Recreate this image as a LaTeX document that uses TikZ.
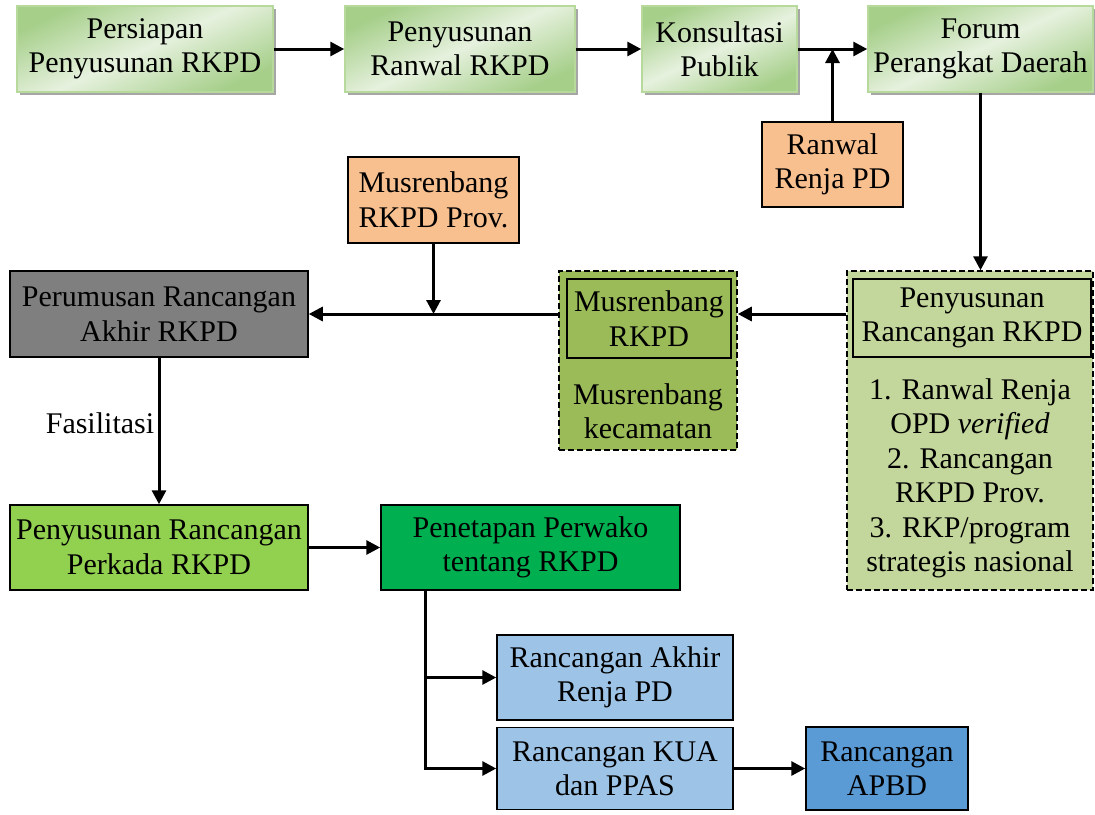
\documentclass[tikz,border=0pt]{standalone}
\usepackage{fontspec}
\setmainfont{Liberation Serif}
\usetikzlibrary{arrows.meta,shadows}

\definecolor{hijauA}{HTML}{A6CF8A}
\definecolor{hijauB}{HTML}{E6F1DE}
\definecolor{garisH}{HTML}{B7D99C}
\definecolor{oranye}{HTML}{F8BF8F}
\definecolor{zaitun}{HTML}{9BBB59}
\definecolor{zaitunM}{HTML}{C3D69B}
\definecolor{abu}{HTML}{7F7F7F}
\definecolor{hijauC}{HTML}{92D050}
\definecolor{hijauD}{HTML}{00B050}
\definecolor{biruM}{HTML}{9DC3E6}
\definecolor{biruT}{HTML}{5B9BD5}

\begin{document}
\begin{tikzpicture}[x=1pt, y=-1pt, ->, >={Triangle[length=14pt,width=14pt]}, line width=3pt,
  font=\fontsize{30}{34.5}\selectfont,
  kotak/.style={rectangle, draw, line width=1.5pt, align=center, inner sep=1pt},
  tahap/.style={kotak, draw=garisH, left color=hijauA, right color=hijauA, middle color=hijauB,
    shading angle=25, drop shadow={shadow xshift=3pt, shadow yshift=-3pt, fill=black!35, opacity=1}},
  kelompok/.style={kotak, dash pattern=on 6pt off 3pt}]

\useasboundingbox (0,0) rectangle (1095,814);

% Tahapan awal (baris atas)
\node[tahap, minimum width=256pt, minimum height=86pt] (prep) at (145,49) {Persiapan\\Penyusunan RKPD};
\node[tahap, minimum width=230pt, minimum height=86pt] (ranwal) at (460,49) {Penyusunan\\Ranwal RKPD};
\node[tahap, minimum width=155pt, minimum height=86pt] (konsul) at (719.5,49) {Konsultasi\\Publik};
\node[tahap, minimum width=225pt, minimum height=86pt] (forum) at (980.5,49) {Forum\\Perangkat Daerah};

% Masukan dari luar
\node[kotak, fill=oranye, minimum width=141pt, minimum height=85pt] (renja) at (832.5,164.5) {Ranwal\\Renja PD};
\node[kotak, fill=oranye, minimum width=171pt, minimum height=86pt] (prov) at (433.5,200) {Musrenbang\\RKPD Prov.};

% Kelompok bergaris putus
\node[kelompok, fill=zaitun, minimum width=178pt, minimum height=179pt] (musout) at (648,360.5) {};
\node[kotak, fill=zaitun, minimum width=164pt, minimum height=79pt] (musin) at (649,318.5) {Musrenbang\\RKPD};
\node[align=center] (muskec) at (648,411) {Musrenbang\\kecamatan};

\node[kelompok, fill=zaitunM, minimum width=246pt, minimum height=319pt] (penout) at (970,430.5) {};
\node[kotak, fill=zaitunM, minimum width=238pt, minimum height=78pt] (penin) at (972,318) {Penyusunan\\Rancangan RKPD};
\node[align=center] (penlist) at (970,478.5) {1. Ranwal Renja\\OPD \textit{verified}\\2. Rancangan\\RKPD Prov.\\3. RKP/program\\strategis nasional};

% Tahapan akhir
\node[kotak, fill=abu, minimum width=298pt, minimum height=86pt] (perum) at (159,314) {Perumusan Rancangan\\Akhir RKPD};
\node[kotak, fill=hijauC, minimum width=298pt, minimum height=85pt] (perkada) at (159,547.5) {Penyusunan Rancangan\\Perkada RKPD};
\node[kotak, fill=hijauD, minimum width=299pt, minimum height=85pt] (penet) at (530.5,547.5) {Penetapan Perwako\\tentang RKPD};
\node[kotak, fill=biruM, minimum width=236pt, minimum height=85pt] (akhir) at (615,677.5) {Rancangan Akhir\\Renja PD};
\node[kotak, fill=biruM, minimum width=236pt, minimum height=82pt] (kua) at (615,768.5) {Rancangan KUA\\dan PPAS};
\node[kotak, fill=biruT, minimum width=162pt, minimum height=83pt] (apbd) at (887,768.5) {Rancangan\\APBD};

% Alur baris atas
\path (prep) edge (ranwal);
\path (ranwal) edge (konsul);
\path (konsul) edge (forum);
\draw (renja) -- (renja |- konsul.east);

% Alur ke bawah dan ke kiri
\draw (forum) -- (forum |- penout.north);
\draw (penout.west |- perum) -- (musout.east |- perum);
\draw (musout.west |- perum) -- (perum);
\draw (prov) -- (prov |- perum);

% Alur penetapan
\draw (perum) -- node[left, pos=0.45] {Fasilitasi} (perkada);
\draw (perkada) -- (penet);
\coordinate (cab) at (425,677.5);
\draw (cab |- penet.south) |- (akhir);
\draw (cab) |- (kua);
\draw (kua) -- (apbd);

\end{tikzpicture}
\end{document}
